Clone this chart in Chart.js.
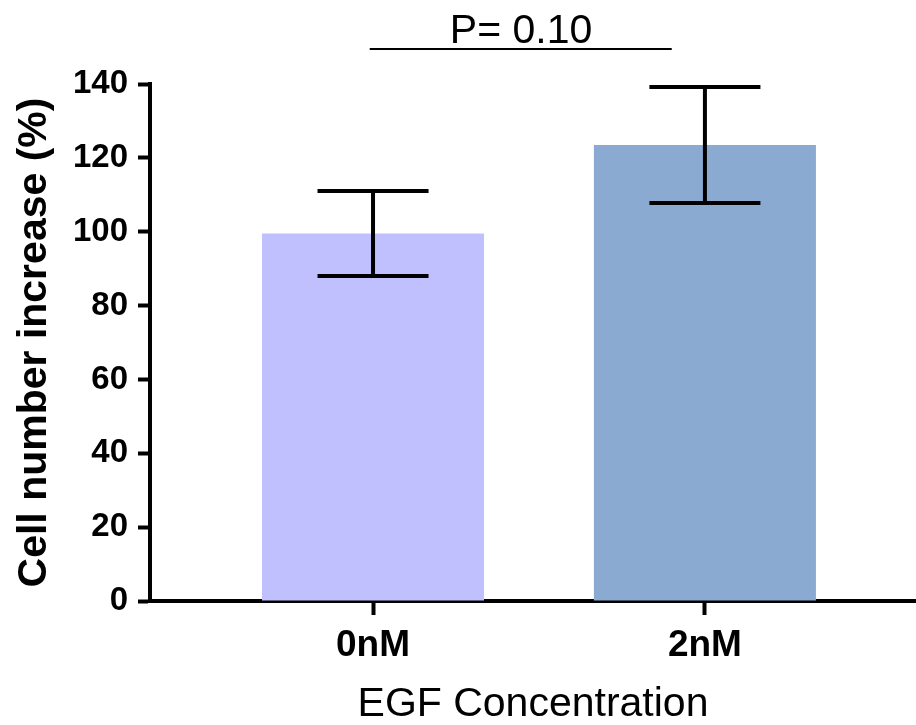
<!DOCTYPE html>
<html><head><meta charset="utf-8">
<script src="https://cdn.jsdelivr.net/npm/chart.js@4/dist/chart.umd.min.js"></script>
<style>html,body{margin:0;padding:0;background:#fff;}</style>
</head><body>
<canvas id="c" width="916" height="725"></canvas>
<script>
const categories = ['0nM', '2nM'];
const positions = [1, 2];
const means = [99.5, 123.5];
const errors = [11.5, 15.7];
const barColors = ['#C0C0FF', '#8AAAD2'];
const yTicks = [0, 20, 40, 60, 80, 100, 120, 140];
const pLabel = 'P= 0.10';
const sigFrom = 0.99, sigTo = 1.90, sigY = 149.5, pX = 1.446;
const xTitle = 'EGF Concentration';
const yTitle = 'Cell number increase (%)';

const FONT = '"Liberation Sans", Arial, sans-serif';

const annot = {
  id: 'annot',
  afterDatasetsDraw(chart) {
    const {ctx, scales: {x, y}} = chart;
    const meta = chart.getDatasetMeta(0);
    ctx.save();
    ctx.strokeStyle = '#000';
    ctx.lineWidth = 4;
    ctx.lineCap = 'butt';
    meta.data.forEach((bar, i) => {
      const cx = bar.x, half = bar.width / 4;
      const yt = y.getPixelForValue(means[i] + errors[i]);
      const yb = y.getPixelForValue(means[i] - errors[i]);
      ctx.beginPath();
      ctx.moveTo(cx, yt); ctx.lineTo(cx, yb);
      ctx.moveTo(cx - half, yt); ctx.lineTo(cx + half, yt);
      ctx.moveTo(cx - half, yb); ctx.lineTo(cx + half, yb);
      ctx.stroke();
    });
    const sy = y.getPixelForValue(sigY);
    ctx.lineWidth = 2;
    ctx.beginPath();
    ctx.moveTo(x.getPixelForValue(sigFrom), sy);
    ctx.lineTo(x.getPixelForValue(sigTo), sy);
    ctx.stroke();
    ctx.fillStyle = '#000';
    ctx.font = '41px ' + FONT;
    ctx.textAlign = 'center';
    ctx.textBaseline = 'alphabetic';
    ctx.fillText(pLabel, x.getPixelForValue(pX), sy - 6);
    ctx.restore();
  }
};

new Chart(document.getElementById('c'), {
  type: 'bar',
  data: {
    datasets: [{
      data: positions.map((p, i) => ({x: p, y: means[i]})),
      backgroundColor: barColors,
      borderWidth: 0,
      barPercentage: 0.669,
      categoryPercentage: 1
    }]
  },
  options: {
    responsive: false,
    animation: false,
    layout: {padding: {top: 84, left: 10, right: 0, bottom: 0}},
    plugins: {legend: {display: false}, tooltip: {enabled: false}},
    scales: {
      x: {
        type: 'linear',
        min: 0.328,
        max: 2.636,
        offset: false,
        afterBuildTicks: s => { s.ticks = positions.map(v => ({value: v})); },
        afterFit: s => { s.height = 124; },
        grid: {offset: false, drawOnChartArea: false, drawTicks: true, tickLength: 14, tickWidth: 4, tickColor: '#000'},
        border: {display: true, color: '#000', width: 4},
        ticks: {
          autoSkip: false,
          color: '#000',
          padding: 9,
          font: {family: FONT, size: 37, weight: 'bold'},
          callback: v => { const i = positions.indexOf(v); return i >= 0 ? categories[i] : ''; }
        },
        title: {display: true, text: xTitle, color: '#000', font: {family: FONT, size: 41, weight: 'normal', lineHeight: 1.0}, padding: {top: 0, bottom: 0}}
      },
      y: {
        min: 0,
        max: 140,
        afterBuildTicks: s => { s.ticks = yTicks.map(v => ({value: v})); },
        afterFit: s => { s.width = 140; },
        grid: {drawOnChartArea: false, drawTicks: true, tickLength: 12, tickWidth: 4, tickColor: '#000'},
        border: {display: true, color: '#000', width: 4},
        ticks: {color: '#000', padding: 10, font: {family: FONT, size: 33, weight: 'bold'}},
        title: {display: true, text: yTitle, color: '#000', font: {family: FONT, size: 41, weight: 'bold'}, padding: {top: 0, bottom: 0}}
      }
    }
  },
  plugins: [annot]
});
</script>
</body></html>
